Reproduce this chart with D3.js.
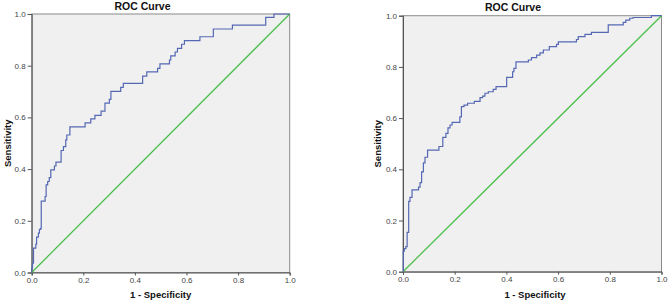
<!DOCTYPE html>
<html>
<head>
<meta charset="utf-8">
<script src="https://cdn.jsdelivr.net/npm/d3@7"></script>
<style>
  html, body { margin: 0; padding: 0; background: #fff; }
  svg { display: block; font-family: "Liberation Sans", Arial, sans-serif; }
</style>
</head>
<body>
<svg id="chart" width="669" height="304"></svg>
<script>
// Left ROC curve: step points (1 - specificity, sensitivity)
const leftFpr = [0, 0, 0.003, 0.007, 0.016, 0.019, 0.026, 0.030, 0.035, 0.037, 0.052, 0.056, 0.062, 0.068, 0.074, 0.088, 0.094, 0.114, 0.123, 0.132, 0.136, 0.148, 0.207, 0.229, 0.245, 0.269, 0.284, 0.301, 0.307, 0.345, 0.355, 0.430, 0.446, 0.488, 0.497, 0.534, 0.539, 0.556, 0.565, 0.581, 0.592, 0.652, 0.704, 0.778, 0.907, 0.939, 1.0];
const leftTpr = [0, 0.017, 0.036, 0.094, 0.110, 0.137, 0.152, 0.167, 0.171, 0.276, 0.294, 0.339, 0.352, 0.367, 0.397, 0.412, 0.427, 0.472, 0.487, 0.513, 0.532, 0.563, 0.579, 0.594, 0.608, 0.624, 0.655, 0.670, 0.701, 0.716, 0.732, 0.760, 0.776, 0.790, 0.807, 0.822, 0.838, 0.853, 0.867, 0.883, 0.897, 0.912, 0.942, 0.957, 0.987, 1.0, 1.0];

// Right ROC curve
const rightFpr = [0, 0.001, 0.005, 0.011, 0.016, 0.022, 0.027, 0.035, 0.060, 0.066, 0.072, 0.079, 0.085, 0.095, 0.139, 0.154, 0.166, 0.174, 0.182, 0.190, 0.220, 0.226, 0.236, 0.250, 0.276, 0.298, 0.308, 0.317, 0.330, 0.349, 0.360, 0.401, 0.424, 0.429, 0.437, 0.485, 0.497, 0.517, 0.530, 0.543, 0.566, 0.594, 0.601, 0.671, 0.678, 0.704, 0.729, 0.794, 0.852, 0.862, 0.877, 0.890, 0.961, 1.0];
const rightTpr = [0, 0.080, 0.090, 0.098, 0.154, 0.275, 0.290, 0.320, 0.330, 0.348, 0.390, 0.425, 0.447, 0.475, 0.489, 0.525, 0.540, 0.562, 0.573, 0.583, 0.605, 0.645, 0.651, 0.658, 0.665, 0.680, 0.686, 0.697, 0.703, 0.712, 0.723, 0.759, 0.781, 0.794, 0.820, 0.827, 0.836, 0.846, 0.855, 0.866, 0.879, 0.888, 0.898, 0.907, 0.918, 0.927, 0.935, 0.964, 0.974, 0.983, 0.990, 0.993, 1.0, 1.0];

const refLine = [0, 1];
const tickValues = [0, 0.2, 0.4, 0.6, 0.8, 1.0];
const title = "ROC Curve";
const xTitle = "1 - Specificity";
const yTitle = "Sensitivity";

const svg = d3.select("#chart");

function drawPanel(fpr, tpr, box) {
  const x = d3.scaleLinear().domain([0, 1]).range([box.x0, box.x1]);
  const y = d3.scaleLinear().domain([0, 1]).range([box.y1, box.y0]);
  const g = svg.append("g");

  // plot background
  g.append("rect")
    .attr("x", x(0)).attr("y", y(1))
    .attr("width", x(1) - x(0)).attr("height", y(0) - y(1))
    .attr("fill", "#f0f0f0").attr("stroke", "#8a8a8a").attr("stroke-width", 1);

  // axes
  g.append("g")
    .attr("transform", `translate(0,${y(0)})`)
    .call(d3.axisBottom(x).tickValues(tickValues).tickFormat(d3.format(".1f")).tickSize(3).tickPadding(2))
    .call(ax => {
      ax.select(".domain").attr("stroke", "#555");
      ax.selectAll(".tick line").attr("stroke", "#555");
      ax.selectAll(".tick text").attr("fill", "#444").style("font-size", "8px").style("font-family", "Liberation Sans, Arial, sans-serif");
    });
  g.append("g")
    .attr("transform", `translate(${x(0)},0)`)
    .call(d3.axisLeft(y).tickValues(tickValues).tickFormat(d3.format(".1f")).tickSize(4).tickPadding(2))
    .call(ax => {
      ax.select(".domain").attr("stroke", "#555");
      ax.selectAll(".tick line").attr("stroke", "#555");
      ax.selectAll(".tick text").attr("fill", "#444").style("font-size", "8px").style("font-family", "Liberation Sans, Arial, sans-serif");
    });

  // reference diagonal
  g.append("path")
    .datum(refLine)
    .attr("fill", "none").attr("stroke", "#4cc04c").attr("stroke-width", 1.3)
    .attr("d", d3.line().x(d => x(d)).y(d => y(d)));

  // ROC step curve
  const pts = fpr.map((f, i) => [f, tpr[i]]);
  g.append("path")
    .datum(pts)
    .attr("fill", "none").attr("stroke", "#5468b4").attr("stroke-width", 1.2)
    .attr("d", d3.line().x(d => x(d[0])).y(d => y(d[1])).curve(d3.curveStepAfter));

  // titles
  g.append("text")
    .attr("x", box.titleX).attr("y", box.titleY)
    .attr("text-anchor", "middle")
    .style("font-size", "10.5px").style("font-weight", "bold").attr("fill", "#111")
    .text(title);
  g.append("text")
    .attr("x", box.xTitleX).attr("y", 298)
    .attr("text-anchor", "middle")
    .style("font-size", "9.5px").style("font-weight", "bold").attr("fill", "#111")
    .text(xTitle);
  g.append("text")
    .attr("transform", `translate(${box.yTitleX},${(box.y0 + box.y1) / 2}) rotate(-90)`)
    .attr("text-anchor", "middle")
    .style("font-size", "9.5px").style("font-weight", "bold").attr("fill", "#111")
    .text(yTitle);
}

drawPanel(leftFpr, leftTpr, { x0: 31.7, x1: 289.7, y0: 14, y1: 272.5, titleX: 142.5, titleY: 9.5, xTitleX: 160.7, yTitleX: 10.5 });
drawPanel(rightFpr, rightTpr, { x0: 403, x1: 661.5, y0: 15.7, y1: 271.7, titleX: 513, titleY: 11, xTitleX: 535, yTitleX: 380.5 });
</script>
</body>
</html>
